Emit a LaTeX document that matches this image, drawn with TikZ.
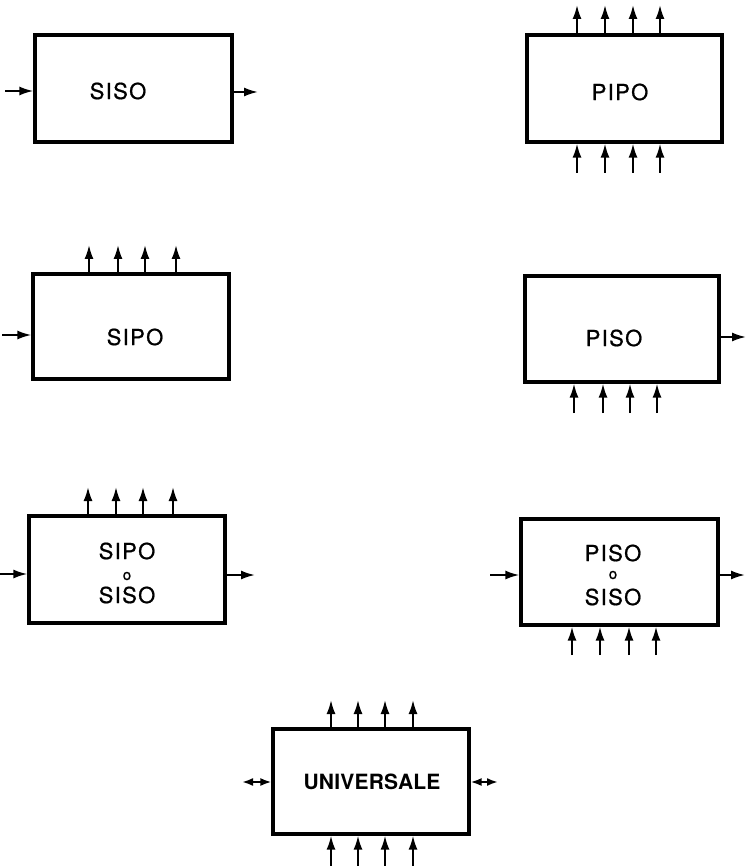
\documentclass[tikz,border=0pt]{standalone}
\usepackage{fontspec}
\setmainfont{TeX Gyre Heros}
\usetikzlibrary{arrows.meta}
\begin{document}
\begin{tikzpicture}[x=1pt,y=-1pt,
  box/.style={draw,line width=3.2pt,inner sep=0pt},
  arr/.style={line width=2pt,-{Latex[length=14pt,width=9pt]}},
  darr/.style={line width=2pt,{Latex[length=11pt,width=8pt]}-{Latex[length=11pt,width=8pt]}},
  lbl/.style={inner sep=0pt,font=\fontsize{22}{26}\selectfont\addfontfeature{LetterSpace=6,FakeBold=0.8}},
  small/.style={inner sep=0pt,font=\fontsize{15}{18}\selectfont\addfontfeature{FakeBold=1.2}},
  bold/.style={inner sep=0pt,font=\fontsize{21}{25}\selectfont\bfseries\addfontfeature{LetterSpace=1}}]
\useasboundingbox (0,0) rectangle (747,866);

% SISO
\node[box,minimum width=197pt,minimum height=107pt] (siso) at (133.5,88.5) {};
\node[lbl] (sisot) at (118,91) {SISO};
\coordinate (siso-in) at (5,91);
\coordinate (siso-out) at (258,92);
\draw[arr] (siso-in) -- (siso-in -| siso.west);
\draw[arr] (siso.east |- siso-out) -- (siso-out);

% PIPO
\node[box,minimum width=195pt,minimum height=107pt] (pipo) at (624.5,88.5) {};
\node[lbl] (pipot) at (620,92) {PIPO};
\foreach \x [count=\i] in {577,605,633,660}{
  \coordinate (pipo-t\i) at (\x,5);
  \coordinate (pipo-b\i) at (\x,173);
  \draw[arr] (pipo-t\i |- pipo.north) -- (pipo-t\i);
  \draw[arr] (pipo-b\i) -- (pipo-b\i |- pipo.south);
}

% SIPO
\node[box,minimum width=196pt,minimum height=105pt] (sipo) at (131,326.5) {};
\node[lbl] (sipot) at (135,337) {SIPO};
\coordinate (sipo-in) at (2,335);
\draw[arr] (sipo-in) -- (sipo-in -| sipo.west);
\foreach \x [count=\i] in {89,118,145,176}{
  \coordinate (sipo-t\i) at (\x,245);
  \draw[arr] (sipo-t\i |- sipo.north) -- (sipo-t\i);
}

% PISO
\node[box,minimum width=194pt,minimum height=106pt] (piso) at (622,329) {};
\node[lbl] (pisot) at (614,338) {PISO};
\coordinate (piso-out) at (746,337);
\draw[arr] (piso.east |- piso-out) -- (piso-out);
\foreach \x [count=\i] in {574,603,630,657}{
  \coordinate (piso-b\i) at (\x,413);
  \draw[arr] (piso-b\i) -- (piso-b\i |- piso.south);
}

% SIPO o SISO
\node[box,minimum width=196pt,minimum height=107pt] (ss) at (127,569.5) {};
\node[lbl] (ss1) at (127,551) {SIPO};
\node[small] (ss2) at (127,576) {o};
\node[lbl] (ss3) at (127,595) {SISO};
\coordinate (ss-in) at (0,574);
\coordinate (ss-out) at (255,575);
\draw[arr] (ss-in) -- (ss-in -| ss.west);
\draw[arr] (ss.east |- ss-out) -- (ss-out);
\foreach \x [count=\i] in {88,116,143,173}{
  \coordinate (ss-t\i) at (\x,487);
  \draw[arr] (ss-t\i |- ss.north) -- (ss-t\i);
}

% PISO o SISO
\node[box,minimum width=197pt,minimum height=106pt] (ps) at (619.5,572) {};
\node[lbl] (ps1) at (613,553) {PISO};
\node[small] (ps2) at (613,575) {o};
\node[lbl] (ps3) at (613,597) {SISO};
\coordinate (ps-in) at (490,575);
\coordinate (ps-out) at (745,575);
\draw[arr] (ps-in) -- (ps-in -| ps.west);
\draw[arr] (ps.east |- ps-out) -- (ps-out);
\foreach \x [count=\i] in {572,600,629,656}{
  \coordinate (ps-b\i) at (\x,655);
  \draw[arr] (ps-b\i) -- (ps-b\i |- ps.south);
}

% UNIVERSALE
\node[box,minimum width=196pt,minimum height=105pt] (uni) at (371,781.5) {};
\node[bold] (unit) at (372,782) {UNIVERSALE};
\coordinate (uni-l) at (242,782);
\coordinate (uni-r) at (498,782);
\draw[darr] (uni-l) -- (uni-l -| uni.west);
\draw[darr] (uni.east |- uni-r) -- (uni-r);
\foreach \x [count=\i] in {331,358,385,413}{
  \coordinate (uni-t\i) at (\x,700);
  \coordinate (uni-b\i) at (\x,866);
  \draw[arr] (uni-t\i |- uni.north) -- (uni-t\i);
  \draw[arr] (uni-b\i) -- (uni-b\i |- uni.south);
}
\end{tikzpicture}
\end{document}
